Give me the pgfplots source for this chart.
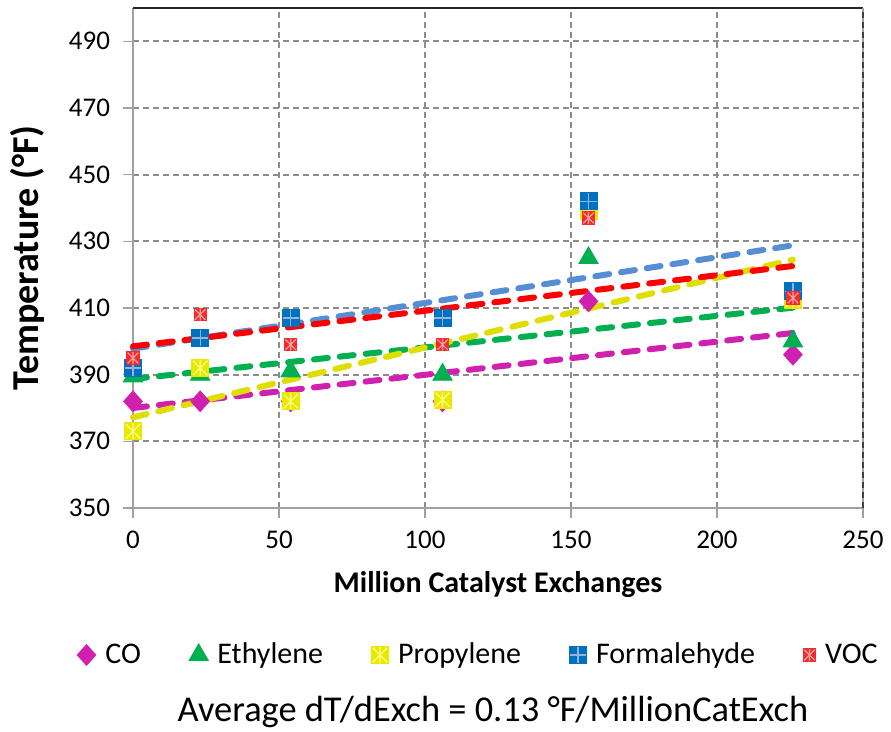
\documentclass[border=0pt]{standalone}
\usepackage{pgfplots}
\pgfplotsset{compat=1.18}
\usepackage{fontspec}
\setmainfont{Carlito}
\definecolor{coM}{RGB}{208,32,176}
\definecolor{etG}{RGB}{0,176,80}
\definecolor{prY}{RGB}{232,232,0}
\definecolor{prYl}{RGB}{255,255,140}
\definecolor{prT}{RGB}{222,222,0}
\definecolor{foB}{RGB}{0,112,192}
\definecolor{foBl}{RGB}{150,180,215}
\definecolor{foT}{RGB}{85,142,213}
\definecolor{voR}{RGB}{250,40,40}
\definecolor{voRl}{RGB}{235,165,165}
\definecolor{voT}{RGB}{255,0,0}
\definecolor{gridc}{RGB}{140,140,140}
\definecolor{axc}{RGB}{160,160,160}
\pgfdeclareplotmark{dia}{%
  \pgfpathmoveto{\pgfqpoint{0pt}{\pgfplotmarksize}}%
  \pgfpathlineto{\pgfqpoint{.9\pgfplotmarksize}{0pt}}%
  \pgfpathlineto{\pgfqpoint{0pt}{-\pgfplotmarksize}}%
  \pgfpathlineto{\pgfqpoint{-.9\pgfplotmarksize}{0pt}}%
  \pgfpathclose\pgfusepathqfill}
\pgfdeclareplotmark{sqast}{%
  \pgfpathrectangle{\pgfqpoint{-\pgfplotmarksize}{-\pgfplotmarksize}}{\pgfqpoint{2\pgfplotmarksize}{2\pgfplotmarksize}}\pgfusepathqfill
  \pgfpathmoveto{\pgfqpoint{-.8\pgfplotmarksize}{-.8\pgfplotmarksize}}\pgfpathlineto{\pgfqpoint{.8\pgfplotmarksize}{.8\pgfplotmarksize}}%
  \pgfpathmoveto{\pgfqpoint{-.8\pgfplotmarksize}{.8\pgfplotmarksize}}\pgfpathlineto{\pgfqpoint{.8\pgfplotmarksize}{-.8\pgfplotmarksize}}%
  \pgfpathmoveto{\pgfqpoint{0pt}{-.9\pgfplotmarksize}}\pgfpathlineto{\pgfqpoint{0pt}{.9\pgfplotmarksize}}%
  \pgfusepathqstroke}
\pgfdeclareplotmark{sqplus}{%
  \pgfpathrectangle{\pgfqpoint{-\pgfplotmarksize}{-\pgfplotmarksize}}{\pgfqpoint{2\pgfplotmarksize}{2\pgfplotmarksize}}\pgfusepathqfill
  \pgfpathmoveto{\pgfqpoint{-.9\pgfplotmarksize}{0pt}}\pgfpathlineto{\pgfqpoint{.9\pgfplotmarksize}{0pt}}%
  \pgfpathmoveto{\pgfqpoint{0pt}{-.9\pgfplotmarksize}}\pgfpathlineto{\pgfqpoint{0pt}{.9\pgfplotmarksize}}%
  \pgfusepathqstroke}
\begin{document}
\begin{tikzpicture}
\begin{axis}[
  name=ax, at={(0,0)}, anchor=south west,
  scale only axis, width=365pt, height=250pt,
  xmin=0, xmax=250, ymin=350, ymax=500,
  xtick={0,50,...,250}, ytick={350,370,...,490},
  grid=major,
  major grid style={gridc, line width=0.9pt, dash pattern=on 3pt off 2pt},
  axis x line*=bottom, axis y line*=left,
  axis line style={axc, line width=0.7pt, -},
  tick style={axc, line width=0.7pt},
  tick align=outside, major tick length=5pt,
  /pgf/number format/assume math mode=true,
  ticklabel style={font=\fontsize{13.5}{15}\selectfont},
  yticklabel style={xshift=-3pt},
  xticklabel style={yshift=-3pt},
  xlabel={Million Catalyst Exchanges},
  ylabel={Temperature (°F)},
  xlabel style={font=\fontsize{15}{17}\selectfont\bfseries, at={(axis description cs:0.5,-0.154)}, anchor=center},
  ylabel style={font=\fontsize{19}{21}\selectfont\bfseries, at={(axis description cs:-0.145,0.5)}, anchor=center},
  legend columns=5,
  legend style={draw=none, fill=none, font=\fontsize{15}{17}\selectfont,
    at={(axis description cs:-0.086,-0.294)}, anchor=west,
    /tikz/every odd column/.append style={column sep=2.5pt},
    /tikz/every even column/.append style={column sep=22pt}},
  legend image code/.code={\draw[#1] plot coordinates {(0pt,0pt)};},
  clip=false,
]
\addplot[only marks, mark=dia, mark size=5.5pt, mark options={fill=coM, draw=coM}]
  coordinates {(0,382)(23,382)(54,382)(106,382)(156,412)(226,396)};
\addlegendentry{CO}
\addplot[only marks, mark=triangle*, mark size=5.6pt, mark options={fill=etG, draw=etG}]
  coordinates {(0,389.5)(23,390)(54,391)(106,390)(156,425)(226,400)};
\addlegendentry{Ethylene}
\addplot[only marks, mark=sqast, mark size=4.5pt, mark options={fill=prY, draw=prYl, line width=0.6pt}]
  coordinates {(0,373)(23,392)(54,382)(106,382.5)(156,439)(226,412.5)};
\addlegendentry{Propylene}
\addplot[only marks, mark=sqplus, mark size=4.5pt, mark options={fill=foB, draw=foBl, line width=0.6pt}]
  coordinates {(0,392)(23,401)(54,407)(106,407)(156,442)(226,415)};
\addlegendentry{Formalehyde}
\addplot[only marks, mark=sqast, mark size=3.3pt, mark options={fill=voR, draw=voRl, line width=0.6pt}]
  coordinates {(0,395)(23,408)(54,399)(106,399)(156,437)(226,413)};
\addlegendentry{VOC}
\addplot[forget plot, coM, line width=3pt, line cap=round, dash pattern=on 7pt off 6pt]
  coordinates {(0,380)(226,402.5)};
\addplot[forget plot, etG, line width=3pt, line cap=round, dash pattern=on 7pt off 6pt]
  coordinates {(0,388.7)(226,410.1)};
\addplot[forget plot, prT, line width=3pt, line cap=round, dash pattern=on 7pt off 6pt]
  coordinates {(0,377.2)(226,424.5)};
\addplot[forget plot, foT, line width=3pt, line cap=round, dash pattern=on 7pt off 6pt]
  coordinates {(0,397.8)(226,428.8)};
\addplot[forget plot, voT, line width=3pt, line cap=round, dash pattern=on 7pt off 6pt]
  coordinates {(0,398.5)(226,422.6)};
\draw[black!85, line width=0.8pt] (rel axis cs:0,1) -- (rel axis cs:1,1);
\draw[axc, line width=0.7pt] (rel axis cs:1,0) -- (rel axis cs:1,1);
\draw[black!75, line width=0.8pt, dash pattern=on 3pt off 2pt] (rel axis cs:1,0) -- (rel axis cs:1,1);
\end{axis}
\node[font=\fontsize{18.2}{20}\selectfont] at (180pt,-102pt) {Average dT/dExch = 0.13 °F/MillionCatExch};
\pgfresetboundingbox
\path[use as bounding box] (-66.5pt,-112pt) rectangle (379pt,254pt);
\end{tikzpicture}
\end{document}
